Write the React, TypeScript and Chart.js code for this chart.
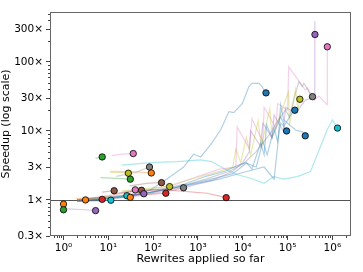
import React, { useEffect, useRef } from 'react';
import { Chart, registerables } from 'chart.js';
Chart.register(...registerables);

const X_MIN = 0.5;
const X_MAX = 2.6e6;
const Y_MIN = 0.3;
const Y_MAX = 530;
const xTickValues = [1, 10, 100, 1e3, 1e4, 1e5, 1e6];
const xTickLabels = ['10⁰', '10¹', '10²', '10³', '10⁴', '10⁵', '10⁶'];
const yTickValues = [0.3, 1, 3, 10, 30, 100, 300];
const yTickLabels = ['0.3×', '1×', '3×', '10×', '30×', '100×', '300×'];

const BLUE = '#1f77b4', ORANGE = '#ff7f0e', GREEN = '#2ca02c', RED = '#d62728', PURPLE = '#9467bd';
const BROWN = '#8c564b', PINK = '#e377c2', GRAY = '#7f7f7f', OLIVE = '#bcbd22', CYAN = '#17becf';

// short runs
const orangeA_x = [1]; const orangeA_y = [0.87];
const greenA_x = [1]; const greenA_y = [0.72];
const purpleA_x = [1.2, 3, 5.2]; const purpleA_y = [0.74, 0.72, 0.70];
const orangeB_x = [2, 3.1]; const orangeB_y = [1.02, 1.0];
const redA_x = [2.2, 4, 7.3]; const redA_y = [0.97, 0.99, 1.02];
const cyanA_x = [2.2, 6, 11.4]; const cyanA_y = [0.95, 0.97, 0.99];
const greenB_x = [5.2, 7.3]; const greenB_y = [4.0, 4.2];
const pinkA_x = [12, 20, 36]; const pinkA_y = [4.4, 4.6, 4.7];
const brownA_x = [7.3, 13.5]; const brownA_y = [1.3, 1.36];
const cyanB_x = [2, 10, 20, 26]; const cyanB_y = [1.0, 1.05, 1.12, 1.15];
const orangeC_x = [1.9, 7.3, 24, 31]; const orangeC_y = [1.05, 1.05, 1.1, 1.09];
const oliveA_x = [11, 20, 28]; const oliveA_y = [2.5, 2.5, 2.44];
const greenC_x = [6.7, 15, 31]; const greenC_y = [2.1, 2.05, 2.0];
const grayA_x = [15, 40, 83]; const grayA_y = [2.2, 2.5, 3.0];
const orangeD_x = [11, 40, 91]; const orangeD_y = [2.6, 2.55, 2.46];
const brownB_x = [30, 80, 154]; const brownB_y = [1.6, 1.75, 1.78];
const oliveB_x = [20, 100, 233]; const oliveB_y = [1.35, 1.5, 1.56];
const grayB_x = [50, 200, 477]; const grayB_y = [1.35, 1.45, 1.5];
const pinkB_x = [20, 40]; const pinkB_y = [1.3, 1.4];
const brownC_x = [15, 55]; const brownC_y = [1.25, 1.38];
const purpleB_x = [25, 62]; const purpleB_y = [1.15, 1.23];
const redB_x = [20, 80, 192]; const redB_y = [1.15, 1.2, 1.25];
const redC_x = [2, 10, 50, 200, 1600, 4270]; const redC_y = [1.0, 1.15, 1.4, 1.4, 1.25, 1.08];

// long runs
const blueA_x = [2, 10, 40, 87, 200, 480, 800, 1150, 1900, 3200, 4900, 6300, 9800, 13700, 16000, 23000, 27000, 33000];
const blueA_y = [0.97, 1.05, 1.2, 1.4, 2.0, 3.0, 4.6, 4.2, 6.3, 10.3, 19, 18.4, 25, 44, 49, 49, 44, 35.6];
const blueB_x = [2, 20, 100, 500, 1500, 4000, 8000, 12000, 16000, 25000, 30000, 34000, 45000, 70000, 85000, 117000, 145000];
const blueB_y = [0.95, 1.1, 1.3, 1.7, 2.2, 2.6, 3.2, 3.5, 2.8, 6.7, 4.5, 12.2, 8, 16.1, 12, 17, 20];
const blueC_x = [3, 30, 300, 2000, 6000, 12000, 20000, 28000, 35000, 50000, 60000, 70000, 80000, 95000];
const blueC_y = [0.95, 1.15, 1.5, 2.0, 2.4, 3.4, 3.0, 7, 4.5, 11, 7, 13, 12, 10];
const blueD_x = [2, 50, 500, 3000, 10000, 30000, 50000, 60000, 70000, 82000, 150000, 215000, 248000];
const blueD_y = [1.0, 1.2, 1.6, 2.0, 2.5, 3.0, 2.0, 6, 23.8, 14.4, 10.3, 9.7, 8.5];
const oliveC_x = [2, 30, 300, 1500, 3000, 6000, 7000, 9000, 12000, 15000, 22000, 26000, 40000, 45000, 105000, 110000, 150000, 170000, 188000];
const oliveC_y = [1.0, 1.2, 1.7, 2.3, 2.6, 3.0, 5.5, 3.5, 8, 4.5, 14, 6, 21, 8, 37, 12, 40, 20, 28.8];
const grayC_x = [2, 20, 200, 1500, 5000, 10000, 20000, 40000, 60000, 90000, 110000, 140000, 178000, 213000, 230000, 360000];
const grayC_y = [0.97, 1.1, 1.4, 2.0, 2.6, 3.3, 5, 9, 14, 20, 16, 30, 52, 44, 49, 31.4];
const purpleC_x = [2, 30, 300, 2000, 6000, 10000, 14000, 15000, 25000, 28000, 45000, 50000, 80000, 90000, 150000, 250000, 400000, 403000, 408000];
const purpleC_y = [0.95, 1.1, 1.4, 1.9, 2.6, 3.5, 5, 10, 6, 13, 8, 17, 10, 22, 18, 28, 31, 390, 250];
const pinkC_x = [2, 20, 200, 1000, 3000, 7000, 7500, 14000, 16000, 28000, 30000, 55000, 60000, 100000, 106000, 250000, 280000, 320000, 400000, 500000, 760000, 770000];
const pinkC_y = [1.0, 1.15, 1.5, 2.2, 2.8, 3.0, 11.4, 5.5, 15, 7, 22, 11, 25, 20, 85, 39, 42, 33, 28, 32, 24, 166];
const cyanC_x = [20, 87, 345, 1150, 2000, 4000, 8000, 15000, 30000, 49000, 82000, 164000, 325000, 760000, 1000000, 1300000];
const cyanC_y = [3.2, 3.47, 3.6, 3.8, 3.6, 2.8, 2.3, 2.06, 1.74, 2.18, 2.0, 2.18, 2.57, 10.3, 14.4, 11];

const seriesList = [
  { x: orangeA_x, y: orangeA_y, c: ORANGE },
  { x: greenA_x, y: greenA_y, c: GREEN },
  { x: purpleA_x, y: purpleA_y, c: PURPLE },
  { x: orangeB_x, y: orangeB_y, c: ORANGE },
  { x: redA_x, y: redA_y, c: RED },
  { x: cyanA_x, y: cyanA_y, c: CYAN },
  { x: greenB_x, y: greenB_y, c: GREEN },
  { x: pinkA_x, y: pinkA_y, c: PINK },
  { x: brownA_x, y: brownA_y, c: BROWN },
  { x: cyanB_x, y: cyanB_y, c: CYAN },
  { x: orangeC_x, y: orangeC_y, c: ORANGE },
  { x: oliveA_x, y: oliveA_y, c: OLIVE },
  { x: greenC_x, y: greenC_y, c: GREEN },
  { x: grayA_x, y: grayA_y, c: GRAY },
  { x: orangeD_x, y: orangeD_y, c: ORANGE },
  { x: brownB_x, y: brownB_y, c: BROWN },
  { x: oliveB_x, y: oliveB_y, c: OLIVE },
  { x: grayB_x, y: grayB_y, c: GRAY },
  { x: pinkB_x, y: pinkB_y, c: PINK },
  { x: brownC_x, y: brownC_y, c: BROWN },
  { x: purpleB_x, y: purpleB_y, c: PURPLE },
  { x: redB_x, y: redB_y, c: RED },
  { x: redC_x, y: redC_y, c: RED },
  { x: blueA_x, y: blueA_y, c: BLUE },
  { x: blueB_x, y: blueB_y, c: BLUE },
  { x: blueC_x, y: blueC_y, c: BLUE },
  { x: blueD_x, y: blueD_y, c: BLUE },
  { x: oliveC_x, y: oliveC_y, c: OLIVE },
  { x: grayC_x, y: grayC_y, c: GRAY },
  { x: purpleC_x, y: purpleC_y, c: PURPLE },
  { x: pinkC_x, y: pinkC_y, c: PINK },
  { x: cyanC_x, y: cyanC_y, c: CYAN },
];

function alpha(hex: string, a: number) {
  const r = parseInt(hex.slice(1, 3), 16), g = parseInt(hex.slice(3, 5), 16), b = parseInt(hex.slice(5, 7), 16);
  return `rgba(${r},${g},${b},${a})`;
}

const FONT = 'DejaVu Sans';

const decorPlugin = {
  id: 'decor',
  beforeDatasetsDraw(chart: any) {
    const { ctx, chartArea, scales } = chart;
    const y1 = Math.round(scales.y.getPixelForValue(1)) + 0.5;
    ctx.save();
    ctx.strokeStyle = '#555';
    ctx.lineWidth = 1;
    ctx.beginPath();
    ctx.moveTo(chartArea.left, y1);
    ctx.lineTo(chartArea.right, y1);
    ctx.stroke();
    ctx.restore();
  },
  afterDraw(chart: any) {
    const { ctx, chartArea, scales } = chart;
    ctx.save();
    ctx.strokeStyle = '#666';
    ctx.lineWidth = 1;
    ctx.strokeRect(Math.round(chartArea.left) + 0.5, Math.round(chartArea.top) + 0.5,
      Math.round(chartArea.right - chartArea.left) - 1, Math.round(chartArea.bottom - chartArea.top) - 1);
    // minor ticks
    ctx.strokeStyle = '#444';
    ctx.beginPath();
    for (let k = -1; k <= 6; k++) {
      for (let m = 2; m <= 9; m++) {
        const v = m * Math.pow(10, k);
        if (v > X_MIN && v < X_MAX) {
          const px = Math.round(scales.x.getPixelForValue(v)) + 0.5;
          ctx.moveTo(px, chartArea.bottom);
          ctx.lineTo(px, chartArea.bottom + 2);
        }
        if (v > Y_MIN && v < Y_MAX) {
          const py = Math.round(scales.y.getPixelForValue(v)) + 0.5;
          ctx.moveTo(chartArea.left, py);
          ctx.lineTo(chartArea.left - 2, py);
        }
      }
    }
    ctx.stroke();
    ctx.restore();
  },
};

export default function App() {
  const ref = useRef<HTMLCanvasElement | null>(null);
  useEffect(() => {
    if (!ref.current) return;
    const lineSets = seriesList.map((s) => ({
      type: 'line' as const,
      data: s.x.map((xv, i) => ({ x: xv, y: s.y[i] })),
      borderColor: alpha(s.c, 0.35),
      borderWidth: 1.2,
      pointRadius: 0,
      tension: 0,
      order: 2,
    }));
    const markerSet = {
      type: 'scatter' as const,
      data: seriesList.map((s) => ({ x: s.x[s.x.length - 1], y: s.y[s.y.length - 1] })),
      pointBackgroundColor: seriesList.map((s) => s.c),
      pointBorderColor: '#000',
      pointBorderWidth: 0.8,
      pointRadius: 3.2,
      order: 1,
    };
    const chart = new Chart(ref.current, {
      type: 'line',
      data: { datasets: [...lineSets, markerSet] as any },
      options: {
        animation: false,
        responsive: false,
        devicePixelRatio: 1,
        layout: { padding: { top: 12, right: 12, left: 0, bottom: 0 } },
        plugins: { legend: { display: false }, tooltip: { enabled: false } },
        scales: {
          x: {
            type: 'logarithmic',
            min: X_MIN,
            max: X_MAX,
            afterBuildTicks: (s: any) => { s.ticks = xTickValues.map((v) => ({ value: v })); },
            afterFit: (s: any) => { s.height = 36; },
            ticks: {
              callback: (_v: any, i: number) => xTickLabels[i],
              color: '#000', font: { family: FONT, size: 10.5 }, padding: 2,
              maxRotation: 0, autoSkip: false,
            },
            grid: { drawOnChartArea: false, tickLength: 4, tickColor: '#444', color: '#444' },
            border: { display: false },
            title: { display: true, text: 'Rewrites applied so far', color: '#000', font: { family: FONT, size: 11.2 }, padding: { top: 0, bottom: 6 } },
          },
          y: {
            type: 'logarithmic',
            min: Y_MIN,
            max: Y_MAX,
            afterBuildTicks: (s: any) => { s.ticks = yTickValues.map((v) => ({ value: v })); },
            afterFit: (s: any) => { s.width = 50; },
            ticks: {
              callback: (_v: any, i: number) => yTickLabels[i],
              color: '#000', font: { family: FONT, size: 10.5 }, padding: 3, autoSkip: false,
            },
            grid: { drawOnChartArea: false, tickLength: 4, tickColor: '#444', color: '#444' },
            border: { display: false },
            title: { display: true, text: 'Speedup (log scale)', color: '#000', font: { family: FONT, size: 11 }, padding: { top: 0, bottom: 0 } },
          },
        },
      } as any,
      plugins: [decorPlugin],
    });
    return () => chart.destroy();
  }, []);
  return (
    <div style={{ position: 'fixed', left: 0, top: 0, width: 363, height: 272, background: '#fff' }}>
      <canvas ref={ref} width={363} height={272} style={{ display: 'block' }} />
    </div>
  );
}
